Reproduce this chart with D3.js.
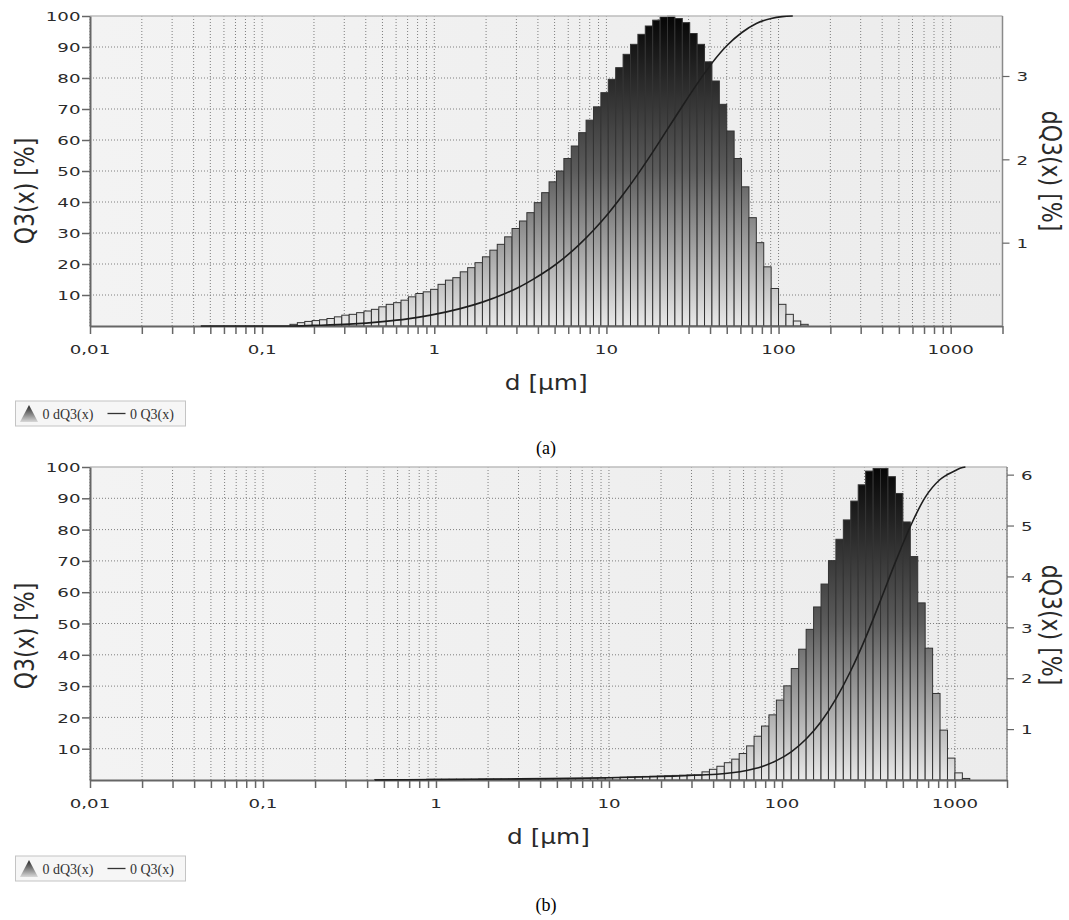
<!DOCTYPE html>
<html>
<head>
<meta charset="utf-8">
<script src="https://cdn.jsdelivr.net/npm/d3@7"></script>
<style>
  body { margin: 0; background: #fff; }
  svg { display: block; }
</style>
</head>
<body>
<div id="chart"></div>
<script>
// ---- data: panel (a) ----
// class limits [µm] of the histogram bars
const classesA = [0.1451, 0.1602, 0.1769, 0.1953, 0.2156, 0.2381, 0.2629, 0.2902, 0.3204, 0.3538,
  0.3906, 0.4313, 0.4762, 0.5257, 0.5805, 0.6409, 0.7076, 0.7813, 0.8626, 0.9524,
  1.0515, 1.1609, 1.2818, 1.4152, 1.5625, 1.7251, 1.9047, 2.103, 2.3219, 2.5635,
  2.8304, 3.125, 3.4503, 3.8094, 4.2059, 4.6437, 5.1271, 5.6608, 6.25, 6.9006,
  7.6188, 8.4119, 9.2874, 10.254, 11.322, 12.5, 13.801, 15.238, 16.824, 18.575,
  20.508, 22.643, 25, 27.602, 30.475, 33.648, 37.15, 41.017, 45.286, 50,
  55.205, 60.951, 67.295, 74.3, 82.034, 90.573, 100, 110.41, 121.9, 134.59, 148.6];
const dQ3A = [0.02, 0.04, 0.055, 0.065, 0.075, 0.09, 0.11, 0.13, 0.14, 0.16,
  0.18, 0.2, 0.23, 0.26, 0.28, 0.31, 0.35, 0.39, 0.41, 0.44,
  0.5, 0.55, 0.58, 0.65, 0.7, 0.76, 0.83, 0.91, 0.98, 1.07,
  1.17, 1.26, 1.36, 1.48, 1.6, 1.73, 1.86, 2.01, 2.16, 2.32,
  2.47, 2.63, 2.8, 2.96, 3.1, 3.26, 3.38, 3.5, 3.6, 3.67,
  3.71, 3.72, 3.69, 3.64, 3.51, 3.38, 3.17, 2.94, 2.66, 2.34,
  2.01, 1.67, 1.3, 1.0, 0.71, 0.45, 0.26, 0.14, 0.06, 0.02];
const sizesQ3A = [0.044, 0.1451, 0.2, 0.32, 0.5, 0.7, 0.9524, 1.4152, 1.9047, 2.5635, 3.125,
  3.8094, 4.6437, 5.6608, 6.9006, 8.4119, 10.254, 12.5, 15.238, 18.575, 22.643, 27.602,
  33.648, 41.017, 50, 60.951, 74.3, 90.573, 105, 121];
const Q3A = [0, 0, 0.2, 0.6, 1.4, 2.3, 3.5, 5.6, 7.7, 10.4, 12.6,
  15.3, 18.3, 21.9, 26.1, 30.9, 36.3, 42.4, 49.0, 56.1, 63.5, 70.9,
  78.1, 84.8, 90.4, 94.6, 97.6, 99.2, 99.8, 100];

// ---- data: panel (b) ----
const classesB = [0.4423, 0.4883, 0.5391, 0.5952, 0.6572, 0.7256, 0.8011, 0.8845,
  0.9766, 1.0782, 1.1904, 1.3144, 1.4512, 1.6022, 1.769,
  1.9531, 2.1564, 2.3809, 2.6287, 2.9023, 3.2044, 3.538,
  3.9063, 4.3129, 4.7618, 5.2574, 5.8047, 6.4089, 7.076,
  7.8125, 8.6257, 9.5235, 10.515, 11.609, 12.818, 14.152,
  15.625, 17.251, 19.047, 21.03, 23.219, 25.635, 28.304,
  31.25, 34.503, 38.094, 42.059, 46.437, 51.271, 56.608,
  62.5, 69.006, 76.188, 84.119, 92.874, 102.54, 113.22,
  125, 138.01, 152.38, 168.24, 185.75, 205.08, 226.43,
  250, 276.02, 304.75, 336.48, 371.5, 410.17, 452.86,
  500, 552.05, 609.51, 672.95, 743, 820.34, 905.73,
  1000, 1104.1, 1219, 1345.9];
const dQ3B = [0.01, 0.01, 0.01, 0.01, 0.01, 0.01, 0.01,
  0.015, 0.015, 0.015, 0.015, 0.015, 0.015, 0.015,
  0.02, 0.02, 0.02, 0.02, 0.02, 0.02, 0.02,
  0.025, 0.025, 0.025, 0.025, 0.025, 0.025, 0.025,
  0.03, 0.035, 0.04, 0.045, 0.05, 0.055, 0.06,
  0.065, 0.07, 0.075, 0.08, 0.085, 0.09, 0.095, 0.1,
  0.1, 0.16, 0.21, 0.27, 0.34, 0.41, 0.52, 0.67, 0.86, 1.06,
  1.28, 1.57, 1.85, 2.19, 2.57, 2.96, 3.4, 3.85, 4.31, 4.73,
  5.11, 5.48, 5.8, 6.07, 6.12, 6.12, 5.96, 5.63, 5.07, 4.39,
  3.48, 2.59, 1.7, 0.98, 0.43, 0.14, 0.03];
const sizesQ3B = [0.4423, 1, 3, 10, 20, 34.503, 42.059, 51.271, 62.5, 76.188, 92.874, 113.22,
  138.01, 168.24, 205.08, 250, 304.75, 371.5, 452.86, 552.05, 672.95, 820.34, 1000, 1080, 1150];
const Q3B = [0, 0.15, 0.35, 0.7, 1.1, 1.6, 1.85, 2.3, 3.05, 4.25, 6.2, 9.0,
  13.1, 18.6, 25.9, 34.9, 45.5, 57.4, 69.6, 81.0, 90.3, 96.0, 98.8, 99.7, 100];

// ---- axis ticks / labels ----
const leftTicks = [10, 20, 30, 40, 50, 60, 70, 80, 90, 100];
const rightTicksA = [1, 2, 3];
const rightTicksB = [1, 2, 3, 4, 5, 6];
const decadeTicks = [0.01, 0.1, 1, 10, 100, 1000];
const decadeLabels = ["0,01", "0,1", "1", "10", "100", "1000"];
const legendLabels = ["0 dQ3(x)", "0 Q3(x)"];

const W = 1069, H = 920;
const SX = 1.4;   // tick labels in the screenshot are stretched horizontally
const SXT = 1.18; // axis titles
const font = "DejaVu Sans, Verdana, sans-serif";

const svg = d3.select("#chart").append("svg").attr("width", W).attr("height", H);
const defs = svg.append("defs");

// bar gradient: dark at the top of the plot, light at the bottom
function addGradient(id, y1, y2) {
  const grad = defs.append("linearGradient")
    .attr("id", id)
    .attr("gradientUnits", "userSpaceOnUse")
    .attr("x1", 0).attr("x2", 0).attr("y1", y1).attr("y2", y2);
  grad.append("stop").attr("offset", 0).attr("stop-color", "#050505");
  grad.append("stop").attr("offset", 0.5).attr("stop-color", "#5c5c5c");
  grad.append("stop").attr("offset", 1).attr("stop-color", "#e9e9e9");
}

const bgGrad = defs.append("linearGradient").attr("id", "bgGrad")
  .attr("x1", 0).attr("x2", 1).attr("y1", 0).attr("y2", 0);
bgGrad.append("stop").attr("offset", 0).attr("stop-color", "#f3f3f3");
bgGrad.append("stop").attr("offset", 1).attr("stop-color", "#ececec");

const legGrad = defs.append("linearGradient").attr("id", "legGrad")
  .attr("x1", 0).attr("x2", 0).attr("y1", 0).attr("y2", 1);
legGrad.append("stop").attr("offset", 0).attr("stop-color", "#222");
legGrad.append("stop").attr("offset", 1).attr("stop-color", "#d8d8d8");

function stretchText(sel, x, y, str, size, sx, anchor, rot) {
  return sel.append("text")
    .attr("transform", `translate(${x},${y}) scale(${sx},1)` + (rot ? ` rotate(${rot})` : ""))
    .attr("text-anchor", anchor)
    .attr("dominant-baseline", "central")
    .style("font-family", font)
    .style("font-size", size + "px")
    .style("fill", "#2a2a2a")
    .text(str);
}

function drawPanel(p) {
  const g = svg.append("g");
  const x = d3.scaleLog().domain([0.01, 2000]).range([p.left, p.right]);
  const yL = d3.scaleLinear().domain([0, 100]).range([p.bottom, p.top]);
  const yR = d3.scaleLinear().domain([0, p.rightMax]).range([p.bottom, p.top]);
  addGradient(p.id + "grad", p.top, p.bottom);

  // plot background
  g.append("rect")
    .attr("x", p.left).attr("y", p.top)
    .attr("width", p.right - p.left).attr("height", p.bottom - p.top)
    .attr("fill", "url(#bgGrad)");

  // grid
  const minor = x.ticks();
  g.append("g").selectAll("line").data(minor).enter().append("line")
    .attr("x1", (d) => x(d)).attr("x2", (d) => x(d))
    .attr("y1", p.top).attr("y2", p.bottom)
    .attr("stroke", "#7e7e7e").attr("stroke-width", 1)
    .attr("stroke-dasharray", "1,2");
  g.append("g").selectAll("line").data(leftTicks.slice(0, -1)).enter().append("line")
    .attr("x1", p.left).attr("x2", p.right)
    .attr("y1", (d) => yL(d)).attr("y2", (d) => yL(d))
    .attr("stroke", "#7e7e7e").attr("stroke-width", 1)
    .attr("stroke-dasharray", "1,2");

  // histogram bars
  const bars = p.dq.map((v, i) => ({ x0: p.classes[i], x1: p.classes[i + 1], v: v }));
  g.append("g").selectAll("rect").data(bars).enter().append("rect")
    .attr("x", (d) => x(d.x0))
    .attr("width", (d) => x(d.x1) - x(d.x0))
    .attr("y", (d) => yR(d.v))
    .attr("height", (d) => p.bottom - yR(d.v))
    .attr("fill", `url(#${p.id}grad)`)
    .attr("stroke", "#333")
    .attr("stroke-width", 1);

  // top border
  g.append("line")
    .attr("x1", p.left).attr("x2", p.right)
    .attr("y1", p.top).attr("y2", p.top)
    .attr("stroke", "#bdbdbd").attr("stroke-width", 1.5);

  // left axis
  const axL = g.append("g").attr("transform", `translate(${p.left},0)`)
    .call(d3.axisLeft(yL).tickValues(leftTicks).tickSize(8).tickSizeOuter(0).tickFormat(d3.format("d")));
  axL.select(".domain").attr("stroke", "#666").attr("stroke-width", 2);
  axL.selectAll(".tick line").attr("stroke", "#666").attr("stroke-width", 1.5);
  axL.selectAll(".tick text")
    .attr("x", -9.5 / SX).attr("dy", "0.36em")
    .attr("transform", `scale(${SX},1)`)
    .style("font-family", font).style("font-size", "13px").style("fill", "#2a2a2a");

  // bottom axis
  const axB = g.append("g").attr("transform", `translate(0,${p.bottom})`)
    .call(d3.axisBottom(x).tickValues(minor).tickSize(8).tickSizeOuter(0).tickFormat(() => ""));
  axB.select(".domain").attr("stroke", "#666").attr("stroke-width", 2);
  axB.selectAll(".tick line").attr("stroke", "#666").attr("stroke-width", 1.5);
  decadeTicks.forEach((d, i) => stretchText(g, x(d), p.bottom + 23, decadeLabels[i], 13, SX, "middle"));

  // right axis
  const axR = g.append("g").attr("transform", `translate(${p.right},0)`)
    .call(d3.axisRight(yR).tickValues(p.rightTicks).tickSize(7).tickSizeOuter(0).tickFormat(d3.format("d")));
  axR.select(".domain").attr("stroke", "#8a8a8a").attr("stroke-width", 1.5)
    .attr("d", `M0,${p.top}V${p.bottom}`);
  axR.selectAll(".tick line").attr("stroke", "#666").attr("stroke-width", 1.2);
  axR.selectAll(".tick text")
    .attr("x", 14 / SX).attr("dy", "0.36em")
    .attr("transform", `scale(${SX},1)`)
    .style("font-family", font).style("font-size", "13px").style("fill", "#2a2a2a");

  // Q3 cumulative line
  const line = d3.line()
    .x((d) => x(d[0]))
    .y((d) => yL(d[1]))
    .curve(d3.curveMonotoneX);
  g.append("path")
    .datum(p.sizes.map((s, i) => [s, p.q3[i]]))
    .attr("d", line)
    .attr("fill", "none")
    .attr("stroke", "#1e1e1e")
    .attr("stroke-width", 1.6);

  // axis titles
  stretchText(g, 25, p.leftTitleY, "Q3(x) [%]", 22, SXT, "middle", -90);
  stretchText(g, 1051, p.rightTitleY, "dQ3(x) [%]", 22, SXT, "middle", 90);
  stretchText(g, (p.left + p.right) / 2, p.bottom + 57, "d [\u00b5m]", 21, SXT, "middle");

  // legend
  const lg = g.append("g").attr("transform", `translate(15.5,${p.legendY})`);
  lg.append("rect").attr("width", 170).attr("height", 25)
    .attr("fill", "#f6f6f6").attr("stroke", "#c4c4c4");
  lg.append("path").attr("d", "M4.5,21 L13.5,4 L22.5,21 Z").attr("fill", "url(#legGrad)");
  lg.append("text").attr("x", 27).attr("y", 17.5)
    .style("font-family", "Liberation Serif, serif").style("font-size", "14px").style("fill", "#333")
    .text(legendLabels[0]);
  lg.append("line").attr("x1", 92).attr("x2", 110).attr("y1", 12.5).attr("y2", 12.5)
    .attr("stroke", "#333").attr("stroke-width", 1.3);
  lg.append("text").attr("x", 114.5).attr("y", 17.5)
    .style("font-family", "Liberation Serif, serif").style("font-size", "14px").style("fill", "#333")
    .text(legendLabels[1]);

  // caption
  svg.append("text")
    .attr("x", 546).attr("y", p.captionY)
    .attr("text-anchor", "middle")
    .style("font-family", "Liberation Serif, Times New Roman, serif")
    .style("font-size", "18px").style("fill", "#000")
    .text(p.caption);
}

drawPanel({
  id: "a", left: 90, right: 1002.5, top: 16, bottom: 326,
  rightMax: 3.72, rightTicks: rightTicksA,
  classes: classesA, dq: dQ3A, sizes: sizesQ3A, q3: Q3A,
  leftTitleY: 191, rightTitleY: 171, legendY: 401, captionY: 454, caption: "(a)"
});
drawPanel({
  id: "b", left: 90, right: 1007, top: 467, bottom: 780,
  rightMax: 6.15, rightTicks: rightTicksB,
  classes: classesB, dq: dQ3B, sizes: sizesQ3B, q3: Q3B,
  leftTitleY: 636, rightTitleY: 625, legendY: 856, captionY: 911, caption: "(b)"
});
</script>
</body>
</html>
